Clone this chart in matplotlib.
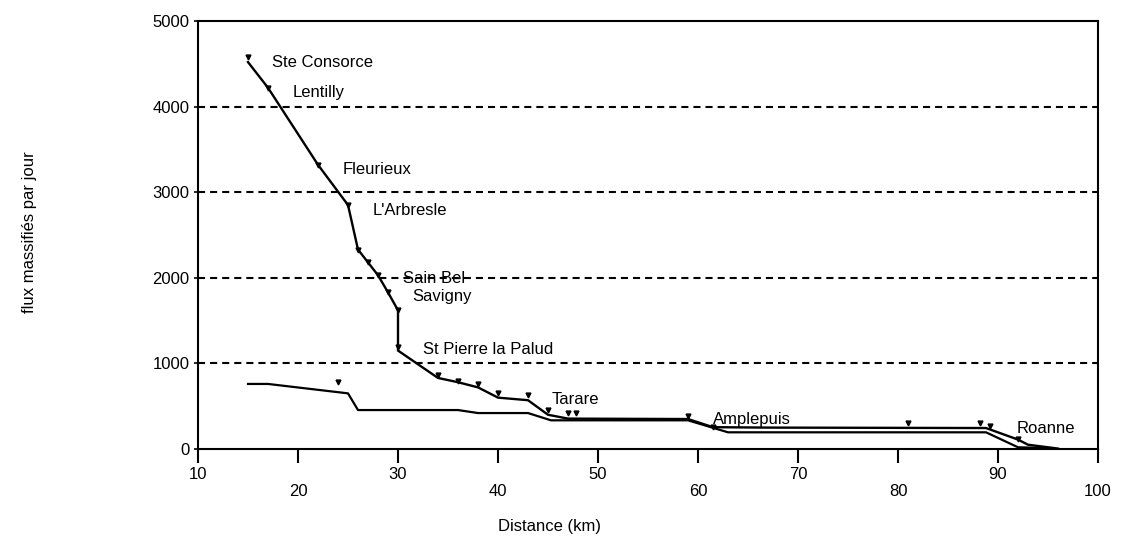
import matplotlib
matplotlib.use("Agg")
import matplotlib.pyplot as plt

plt.rcParams['font.family'] = ['Liberation Sans', 'DejaVu Sans']

# ---- data ----
# upper curve (flux along the line, with stations)
main_x = [15, 17, 22, 25, 26, 27, 28, 29, 30, 30, 34, 36, 38, 40, 43, 45, 47, 59, 61.5, 67, 88.8, 92, 93, 96]
main_y = [4520, 4220, 3320, 2850, 2330, 2180, 2030, 1830, 1620, 1150, 830, 780, 720, 600, 570, 400, 355, 350, 255, 250, 245, 110, 50, 5]

# lower curve
low_x = [15, 17, 25, 26, 36, 38, 43, 45.3, 59, 63, 88.8, 92, 95.5]
low_y = [760, 760, 650, 455, 455, 420, 420, 335, 335, 195, 195, 20, 10]

# measured points
pts_x = [15, 17, 22, 25, 26, 27, 28, 29, 30, 30, 34, 36, 38, 40, 43, 45, 47, 47.8, 24, 59, 61.5, 81, 88.2, 89.2, 92]
pts_y = [4580, 4220, 3320, 2850, 2330, 2180, 2030, 1830, 1620, 1190, 860, 800, 760, 660, 630, 450, 420, 420, 780, 385, 260, 300, 300, 270, 120]

# station labels
stations = ["Ste Consorce", "Lentilly", "Fleurieux", "L'Arbresle", "Sain Bel", "Savigny",
            "St Pierre la Palud", "Tarare", "Amplepuis", "Roanne"]
station_x = [17.4, 19.5, 24.5, 27.5, 30.5, 31.4, 32.5, 45.4, 61.5, 91.9]
station_y = [4520, 4170, 3270, 2790, 1986, 1787, 1157, 584, 339, 234]

xticks = [10, 20, 30, 40, 50, 60, 70, 80, 90, 100]
xtick_labels = ['10', '20', '30', '40', '50', '60', '70', '80', '90', '100']
yticks = [0, 1000, 2000, 3000, 4000, 5000]
ytick_labels = ['0', '1000', '2000', '3000', '4000', '5000']
grid_levels = [1000, 2000, 3000, 4000]

# ---- figure ----
W, H = 1124, 537
fig = plt.figure(figsize=(W / 100, H / 100), dpi=100)
ax = fig.add_axes([198 / W, 1 - 449 / H, 900 / W, 428 / H])

for g in grid_levels:
    ax.axhline(g, color='black', lw=1.5, linestyle=(0, (3.4, 2.4)), zorder=1)

ax.plot(low_x, low_y, color='black', lw=1.6, zorder=3)
ax.plot(main_x, main_y, color='black', lw=1.7, zorder=3)
ax.plot(pts_x, pts_y, linestyle='none', marker='v', markersize=3.5,
        color='black', zorder=4)

for name, sx, sy in zip(stations, station_x, station_y):
    ax.text(sx, sy, name, ha='left', va='center', fontsize=12, color='black', zorder=5)

ax.set_xlim(10, 100)
ax.set_ylim(0, 5000)
ax.set_xticks(xticks)
ax.set_xticklabels([lab if i % 2 == 0 else '\n' + lab for i, lab in enumerate(xtick_labels)],
                   fontsize=12, linespacing=1.15)
ax.set_yticks(yticks)
ax.set_yticklabels(ytick_labels, fontsize=12)
ax.tick_params(axis='x', direction='out', length=10, width=1.5, pad=3)
ax.tick_params(axis='y', direction='out', length=3, width=1.2, pad=3)

for sp in ax.spines.values():
    sp.set_linewidth(1.5)
    sp.set_color('black')

fig.text(549 / W, 1 - 527 / H, 'Distance (km)', ha='center', va='center', fontsize=12)
fig.text(30 / W, 1 - 232 / H, 'flux massifiés par jour', ha='center', va='center',
         rotation=90, fontsize=12)

fig.savefig('out.png', dpi=100, facecolor='white')
